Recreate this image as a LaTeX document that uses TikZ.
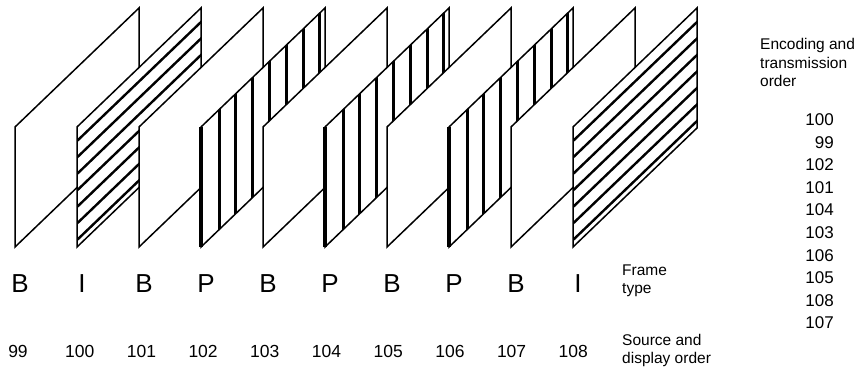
\documentclass[tikz,border=0pt]{standalone}
\usepackage{fontspec}
\setmainfont{Liberation Sans}
\begin{document}
\begin{tikzpicture}[x=1pt,y=-1pt,
  border/.style={draw=black, line width=1.5pt, line join=miter},
  istripe/.style={draw=black, line width=2.4pt},
  pstripe/.style={draw=black, line width=3pt},
  ftype/.style={font=\fontsize{26}{30}\selectfont, inner sep=0pt},
  snum/.style={font=\fontsize{17.5}{20}\selectfont, inner sep=0pt},
  cnum/.style={font=\fontsize{17}{20}\selectfont, inner sep=0pt, anchor=base east},
  lab/.style={font=\fontsize{15.5}{18}\selectfont, inner sep=0pt, anchor=base west}]
\useasboundingbox (0,0) rectangle (865,369);
% frames, drawn left to right so that each one covers the previous one
\foreach \i/\k in {0/0,1/1,2/0,3/2,4/0,5/2,6/0,7/2,8/0,9/1}{
  \pgfmathsetmacro\fx{15+62*\i}
  \pgfmathsetmacro\fr{\fx+124}
  \fill[white] (\fx,247) -- (\fx,127) -- (\fr,8) -- (\fr,128) -- cycle;
  \ifnum\k=1
    \begin{scope}
      \clip (\fx,247) -- (\fx,127) -- (\fr,8) -- (\fr,128) -- cycle;
      \foreach \o in {14,30.5,...,113}{
        \draw[istripe] ({\fx-5},{127+\o+4.8}) -- ({\fr+5},{8+\o-4.8});
      }
    \end{scope}
  \fi
  \ifnum\k=2
    \begin{scope}
      \clip (\fx,247) -- (\fx,127) -- (\fr,8) -- (\fr,128) -- cycle;
      \foreach \o in {18,34.8,...,120}{
        \draw[pstripe] ({\fx+\o},0) -- ({\fx+\o},260);
      }
    \end{scope}
    \draw[line width=3.5pt] (\fx,247) -- (\fx,127);
  \fi
  \draw[border] (\fx,247) -- (\fx,127) -- (\fr,8) -- (\fr,128) -- cycle;
}
% frame types
\foreach \i/\t in {0/B,1/I,2/B,3/P,4/B,5/P,6/B,7/P,8/B,9/I}{
  \node[ftype] (t\i) at ({20+62*\i},284) {\t};
}
% source and display order
\foreach \i/\n in {0/99,1/100,2/101,3/102,4/103,5/104,6/105,7/106,8/107,9/108}{
  \node[snum] (n\i) at ({18+61.7*\i},351) {\n};
}
% encoding and transmission order
\foreach \j/\n in {0/100,1/99,2/102,3/101,4/104,5/103,6/106,7/105,8/108,9/107}{
  \node[cnum] (c\j) at (834,{125.5+22.6*\j}) {\n};
}
\node[lab] (enc1) at (760,50) {Encoding and};
\node[lab] (enc2) at (760,68.5) {transmission};
\node[lab] (enc3) at (760,87) {order};
\node[lab] (ft1) at (622,275) {Frame};
\node[lab] (ft2) at (622,293.5) {type};
\node[lab] (sd1) at (622,345) {Source and};
\node[lab] (sd2) at (622,363.5) {display order};
\end{tikzpicture}
\end{document}
